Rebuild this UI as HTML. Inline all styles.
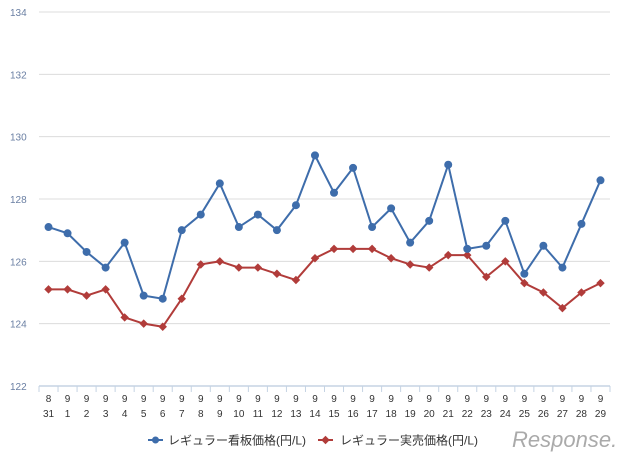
<!DOCTYPE html>
<html><head><meta charset="utf-8"><style>
body{margin:0;background:#fff;}
svg{display:block;font-family:"Liberation Sans","Noto Sans CJK JP",sans-serif;}
</style></head><body>
<svg id="chart" width="640" height="460" viewBox="0 0 640 460">
<g id="grid"></g><g id="axes"></g><g id="series"></g>
<g>
 <g>
  <line x1="148" y1="440" x2="163" y2="440" stroke="#3e6dab" stroke-width="2"/>
  <circle cx="155.5" cy="440" r="3.5" fill="#3e6dab"/>
  <text x="168" y="444.5" font-size="12" fill="#333">レギュラー看板価格(円/L)</text>
 </g>
 <g>
  <line x1="318" y1="440" x2="333" y2="440" stroke="#b13c3a" stroke-width="2"/>
  <rect x="322.5" y="437" width="6" height="6" fill="#b13c3a" transform="rotate(45 325.5 440)"/>
  <text x="340" y="444.5" font-size="12" fill="#333">レギュラー実売価格(円/L)</text>
 </g>
</g>
<text x="512" y="447" font-size="22" fill="#aaa" font-style="italic">Response.</text>
</svg>
<script>
const months=["8","9","9","9","9","9","9","9","9","9","9","9","9","9","9","9","9","9","9","9","9","9","9","9","9","9","9","9","9","9"];
const days=["31","1","2","3","4","5","6","7","8","9","10","11","12","13","14","15","16","17","18","19","20","21","22","23","24","25","26","27","28","29"];
const signboard=[127.1,126.9,126.3,125.8,126.6,124.9,124.8,127.0,127.5,128.5,127.1,127.5,127.0,127.8,129.4,128.2,129.0,127.1,127.7,126.6,127.3,129.1,126.4,126.5,127.3,125.6,126.5,125.8,127.2,128.6];
const actual=[125.1,125.1,124.9,125.1,124.2,124.0,123.9,124.8,125.9,126.0,125.8,125.8,125.6,125.4,126.1,126.4,126.4,126.4,126.1,125.9,125.8,126.2,126.2,125.5,126.0,125.3,125.0,124.5,125.0,125.3];
const yTicks=[122,124,126,128,130,132,134];

const NS="http://www.w3.org/2000/svg";
const L=39,R=610,T=12,B=386,YMIN=122,YMAX=134;
const band=(R-L)/days.length;
const x=i=>L+band*(i+0.5);
const y=v=>B-(v-YMIN)/(YMAX-YMIN)*(B-T);
function mk(tag,attrs,parent){const e=document.createElementNS(NS,tag);for(const k in attrs)e.setAttribute(k,attrs[k]);parent.appendChild(e);return e;}
const grid=document.getElementById('grid'),axes=document.getElementById('axes'),ser=document.getElementById('series');
yTicks.forEach(t=>{
  if(t!==YMIN){const g=mk('line',{x1:L,x2:R,y1:y(t),y2:y(t),stroke:'#dcdcdc','stroke-width':1},grid);
  
  }
  const tx=mk('text',{x:10,y:y(t)+4,'font-size':10,fill:'#6a7fa3'},axes);tx.textContent=t;
  
  
});
const ax=mk('line',{x1:L,x2:R,y1:B,y2:B,stroke:'#c5d3e3','stroke-width':1.5},axes);


for(let i=0;i<=days.length;i++){const tk=mk('line',{x1:L+band*i,x2:L+band*i,y1:B,y2:B+6,stroke:'#c5d3e3'},axes);

}
days.forEach((d,i)=>{
  const a=mk('text',{x:x(i),y:402,'font-size':10,fill:'#333','text-anchor':'middle'},axes);a.textContent=months[i];
  
  
  const b=mk('text',{x:x(i),y:417,'font-size':10,fill:'#333','text-anchor':'middle'},axes);b.textContent=d;
  
  
});
function draw(vals,color,shape,name){
  const p=mk('polyline',{points:vals.map((v,i)=>x(i)+','+y(v)).join(' '),fill:'none',stroke:color,'stroke-width':2},ser);
  
  
  vals.forEach((v,i)=>{
    let m;
    if(shape==='circle')m=mk('circle',{cx:x(i),cy:y(v),r:4,fill:color},ser);
    else m=mk('rect',{x:x(i)-3,y:y(v)-3,width:6,height:6,fill:color,transform:`rotate(45 ${x(i)} ${y(v)})`},ser);
    
    
  });
}
draw(actual,'#b13c3a','diamond','actual-price');
draw(signboard,'#3e6dab','circle','signboard-price');
</script>
</body></html>
